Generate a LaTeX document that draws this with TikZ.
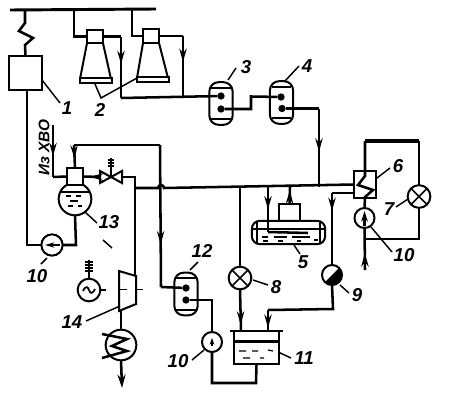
\documentclass[tikz,border=0pt]{standalone}
\usepackage{fontspec}
\setmainfont{Liberation Sans}
\usetikzlibrary{arrows.meta,decorations.markings}
\tikzset{
  pipe/.style={line width=1.9pt,line join=miter},
  flow/.style={pipe,postaction={decorate},decoration={markings,mark=at position #1 with {\arrow{Stealth[length=10pt,width=5.5pt]}}}},
  flow/.default=0.6,
  lead/.style={line width=1.1pt},
  shell/.style={draw,line width=1.5pt,inner sep=0,outer sep=0},
  pumpnode/.style={shell,circle,minimum size=15pt},
  coolnode/.style={shell,circle,minimum size=17pt},
  capsule/.style={shell,rectangle,rounded corners=7pt,minimum width=17.5pt,minimum height=32pt},
  dotnode/.style={circle,fill=black,inner sep=0,minimum size=5.5pt,outer sep=0},
  lbl/.style={font=\fontsize{14}{14}\selectfont\itshape\bfseries,inner sep=0},
}
\begin{document}
\begin{tikzpicture}[x=0.75pt,y=-0.75pt]
  \useasboundingbox (0,0) rectangle (456,414);
  % bus and reactor
  \draw[line width=2.2pt] (10,10) -- (156,9);
  \node[shell,minimum width=24.5pt,minimum height=25.5pt] (box1) at (25.5,73) {};
  \coordinate (busA) at (25,10);
  \draw[pipe] (busA) -- (25,23) -- (19,31) -- (33,38) -- (25,45) -- (box1.north);
  % gas turbines
  \node[shell,minimum width=12pt,minimum height=10pt] (gtA) at (95,36.5) {};
  \node[shell,minimum width=12pt,minimum height=10.5pt] (gtB) at (151,36) {};
  \draw[line width=1.5pt] (gtA.south west) -- (80,79) (gtA.south east) -- (111,79);
  \draw[line width=1.5pt] (gtB.south west) -- (137,78) (gtB.south east) -- (168,78);
  \node[shell,minimum width=24pt,minimum height=3.5pt] (gtAbase) at (95.5,80.5) {};
  \node[shell,minimum width=24pt,minimum height=3.5pt] (gtBbase) at (152.5,79.5) {};
  \coordinate (busB) at (74,10);
  \coordinate (busC) at (132,10);
  \draw[pipe] (busB) |- (gtA.west);
  \draw[pipe] (busC) |- (gtB.west);
  % heaters 3, 4
  \node[capsule] (heatA) at (221,103.5) {};
  \node[capsule] (heatB) at (281.5,102.5) {};
  \draw[line width=1pt] (211,88) -- (231,88) (211,119) -- (231,119);
  \draw[line width=1pt] (272,87) -- (291,87) (272,118) -- (291,118);
  \node[dotnode] (heatAin) at (221,96) {};
  \node[dotnode] (heatAout) at (221,109) {};
  \node[dotnode] (heatBin) at (281,97) {};
  \node[dotnode] (heatBout) at (282,108.5) {};
  \coordinate (joinA) at (121,98);
  \coordinate (topA) at (121,36.5);
  \coordinate (topB) at (183,36);
  \coordinate (joinB) at (183,98);
  \draw[pipe] (gtA.east) -- (topA);
  \draw[flow=0.45] (topA) -- (joinA);
  \draw[pipe] (joinA) -- (heatAin);
  \draw[pipe] (gtB.east) -- (topB);
  \draw[flow=0.42] (topB) -- (joinB);
  \draw[pipe] (heatAout) -- (251,109) -- (251,96.5) -- (heatBin);
  % header
  \coordinate (headIn) at (319,108.5);
  \coordinate (headA) at (319,187);
  \draw[pipe] (heatBout) -- (headIn);
  \draw[flow=0.55] (headIn) -- (headA);
  % box 6 and loop to cooler 7
  \node[shell,minimum width=16.5pt,minimum height=20pt] (box6) at (365,184.5) {};
  \node[coolnode] (cool7) at (419,196.5) {};
  \node[pumpnode] (pump6) at (364.5,218) {};
  \coordinate (coilTop) at (365,141);
  \coordinate (loopTop) at (419,141);
  \coordinate (loopBot) at (419,239);
  \coordinate (coilBot) at (365,239);
  \coordinate (coilIn) at (365,270);
  \draw[line width=2.4pt] (coilTop) -- (loopTop);
  \draw[pipe] (loopTop) -- (cool7.north);
  \draw[pipe] (cool7.south) -- (loopBot) -- (coilBot);
  \draw[pipe] (coilTop) -- (365,176) -- (358,185) -- (373,190) -- (365,197) -- (pump6.north);
  \draw[flow=0.4] (coilIn) -- (pump6.south);
  \draw[pipe,-{Stealth[length=8pt,width=5pt]}] (364.5,226) -- (364.5,211);
  \draw[line width=1.3pt] (cool7.north west) -- (cool7.south east) (cool7.north east) -- (cool7.south west);
  % drum 13, valve, turbine
  \node[shell,circle,minimum size=24.5pt] (drum13) at (75,199) {};
  \node[shell,fill=white,minimum width=12pt,minimum height=13pt] (box13) at (75,176.5) {};
  \draw[line width=1.3pt] (60,192) -- (90,192);
  \draw[line width=0.9pt] (66,196) -- (71,196) (76,196) -- (81,196) (70,201) -- (78,201) (68,206) -- (73,206) (78,206) -- (82,206);
  \coordinate (valve) at (111,177);
  \draw[line width=1.5pt] (valve) -- (100,171) -- (100,183) -- cycle;
  \draw[line width=1.5pt] (valve) -- (122,171) -- (122,183) -- cycle;
  \draw[pipe] (valve) -- (111,158);
  \draw[line width=1.4pt] (108,160) -- (114,160) (108,163) -- (114,163) (108,166) -- (114,166);
  \coordinate (valveIn) at (122,177);
  \coordinate (valveOut) at (100,177);
  \coordinate (xvoIn) at (53,125);
  \coordinate (xvoBend) at (53,177);
  \draw[flow=0.6] (xvoIn) -- (xvoBend);
  \draw[pipe] (xvoBend) -- (box13.west);
  \draw[flow=0.6] (valveOut) -- (box13.east);
  \node[shell,circle,minimum size=16pt] (pump13) at (52,245) {};
  \draw[pipe] (box1.south) ++(1.5,0) -- (27,245) -- (pump13.west);
  \draw[pipe] (pump13.east) -- (76,245) -- (drum13.south);
  \draw[pipe,-{Stealth[length=7pt,width=4pt]}] (60,245) -- (45,245);
  \coordinate (dropTop) at (74,145);
  \coordinate (dropRight) at (160,145);
  \coordinate (dropBot) at (161,287);
  \draw[flow=0.6] (dropTop) -- (box13.north);
  \draw[pipe] (dropTop) -- (dropRight);
  \draw[flow=0.7] (dropRight) -- (dropBot);
  % turbine
  \draw[line width=1.5pt] (119,271) -- (136,276) -- (136,304) -- (119,311) -- cycle;
  \node[shell,circle,minimum size=17pt] (gen) at (89,290) {};
  \coordinate (genTop) at (89,260);
  \draw[line width=1.5pt] (gen.north) -- (genTop);
  \draw[line width=1.4pt] (85,262) -- (93,262) (85,265) -- (93,265) (85,268) -- (93,268) (85,271) -- (93,271);
  \draw[line width=1.3pt] (83,291) .. controls (86,285) and (88,287) .. (89,290) .. controls (90,293) and (92,295) .. (95,289);
  \draw[line width=1.2pt] (gen.east) -- (106,290) (119,289.5) -- (127,289.5) (135,289.5) -- (143,289.5);
  \coordinate (valveDrop) at (135,177);
  \coordinate (turbIn) at (135,276);
  \draw[pipe] (valveIn) -- (valveDrop) -- (turbIn);
  \node[shell,circle,minimum size=23pt] (cond) at (121,345) {};
  \coordinate (turbOut) at (121,311);
  \coordinate (condOut) at (122,388);
  \draw[pipe] (turbOut) -- (cond.north);
  \draw[pipe,-{Stealth[length=10pt,width=6pt]}] (cond.south) -- (condOut);
  \draw[pipe] (102,334) -- (127,339) -- (112,346) -- (127,351) -- (102,358);
  % main line with hop
  \coordinate (headB) at (135,188);
  \draw[pipe] (headB) -- (158,188) arc[start angle=180,end angle=360,radius=3] -- (box6.west);
  % deaerator 5
  \node[shell,rounded corners=6pt,minimum width=55pt,minimum height=17.5pt] (dea5) at (288.5,232.5) {};
  \node[shell,minimum width=16pt,minimum height=13pt] (dome5) at (289.5,212.5) {};
  \draw[line width=1pt] (257,222) -- (257,244) (320,222) -- (320,244) (253,229) -- (324,229);
  \coordinate (steamTop) at (268,187);
  \coordinate (steamBend) at (268,232);
  \coordinate (steamEnd) at (308,233);
  \draw[flow=0.5] (steamTop) -- (steamBend);
  \draw[pipe] (steamBend) -- (steamEnd);
  \coordinate (domeTop) at (290,187);
  \draw[flow=0.8] (dome5.north) -- (domeTop);
  \draw[line width=0.9pt] (262,237) -- (268,237) (274,237) -- (287,237) (292,237) -- (310,237) (263,241) -- (268,241) (278,241) -- (283,241) (297,241) -- (301,241) (314,240) -- (318,240);
  % cooler 8, trap 9, tank 11
  \node[coolnode] (cool8) at (240,278) {};
  \draw[line width=1.3pt] (cool8.north west) -- (cool8.south east) (cool8.north east) -- (cool8.south west);
  \node[shell,circle,minimum size=15pt] (trap9) at (332,275) {};
  \fill (trap9.north east) arc[start angle=-45,end angle=135,radius=10];
  \node[shell,minimum width=33.5pt,minimum height=25pt] (tank11) at (256.5,347.5) {};
  \draw[pipe] (230,331) -- (283,331);
  \fill (234,340) rectangle (279,343);
  \draw[line width=0.9pt] (239,351) -- (246,351) (252,351) -- (258,351) (268,350) -- (273,351) (243,358) -- (250,358) (260,358) -- (264,358);
  \coordinate (headC) at (240,187);
  \draw[pipe] (headC) -- (cool8.north);
  \coordinate (tankInA) at (241,331);
  \draw[flow=0.85] (cool8.south) -- (tankInA);
  \coordinate (trapBend) at (333,309);
  \coordinate (tankBend) at (268,310);
  \coordinate (tankInB) at (268,331);
  \draw[pipe] (trap9.south) -- (trapBend) -- (tankBend);
  \draw[flow=0.85] (tankBend) -- (tankInB);
  \coordinate (box6Out) at (332,193);
  \draw[pipe] (box6.west |- box6Out) -- (box6Out);
  \draw[flow=0.25] (box6Out) -- (trap9.north);
  % heater 12 and pump
  \node[capsule] (heat12) at (186,294) {};
  \draw[line width=1pt] (176,278) -- (196,278) (176,310) -- (196,310);
  \node[dotnode] (heat12in) at (186,288) {};
  \node[dotnode] (heat12out) at (186,300) {};
  \draw[pipe] (dropBot) -- (heat12in);
  \node[pumpnode] (pump12) at (212,342) {};
  \coordinate (tankOut) at (256,383);
  \coordinate (pumpLow) at (212,383);
  \coordinate (heatTop) at (212,300);
  \draw[pipe] (tank11.south) -- (tankOut) -- (pumpLow) -- (pump12.south);
  \draw[pipe] (pump12.north) -- (heatTop) -- (heat12out);
  \draw[pipe,-{Stealth[length=5pt,width=3.5pt]}] (212,346) -- (212,338);
  % leaders
  \draw[lead] (42,80) -- (60,103);
  \draw[lead] (95,84) -- (101,98) -- (137,78);
  \draw[lead] (228,80) -- (236,68);
  \draw[lead] (285,81) -- (299,66);
  \draw[lead] (294,245) -- (300,254);
  \draw[lead] (377,178) -- (390,168);
  \draw[lead] (396,207) -- (408,199);
  \draw[lead] (253,280) -- (268,285);
  \draw[lead] (340,285) -- (349,293);
  \draw[lead] (371,227) -- (392,252);
  \draw[lead] (192,360) -- (204,350);
  \draw[lead] (190,270) -- (198,262);
  \draw[lead] (85,212) -- (97,223);
  \draw[lead] (103,240) -- (112,248);
  \draw[lead] (47,258) -- (41,264);
  \draw[lead] (86,321) -- (120,306);
  \draw[lead] (278,352) -- (291,358);
  % labels
  \node[lbl] (lab1) at (67,108) {1};
  \node[lbl] (lab2) at (100,110) {2};
  \node[lbl] (lab3) at (246,67) {3};
  \node[lbl] (lab4) at (307,66) {4};
  \node[lbl] (lab5) at (303,262) {5};
  \node[lbl] (lab6) at (398,166) {6};
  \node[lbl] (lab7) at (389,209) {7};
  \node[lbl] (lab8) at (276,287) {8};
  \node[lbl] (lab9) at (357,295) {9};
  \node[lbl] (lab10a) at (37,276) {10};
  \node[lbl] (lab10b) at (404,255) {10};
  \node[lbl] (lab10c) at (178,361) {10};
  \node[lbl] (lab11) at (304,358) {11};
  \node[lbl] (lab12) at (202,251) {12};
  \node[lbl] (lab13) at (109,222) {13};
  \node[lbl] (lab14) at (72,322) {14};
  \node[lbl,rotate=90,font=\fontsize{11.5}{12}\selectfont\itshape\bfseries] (labXvo) at (44,148) {Из ХВО};
\end{tikzpicture}
\end{document}
